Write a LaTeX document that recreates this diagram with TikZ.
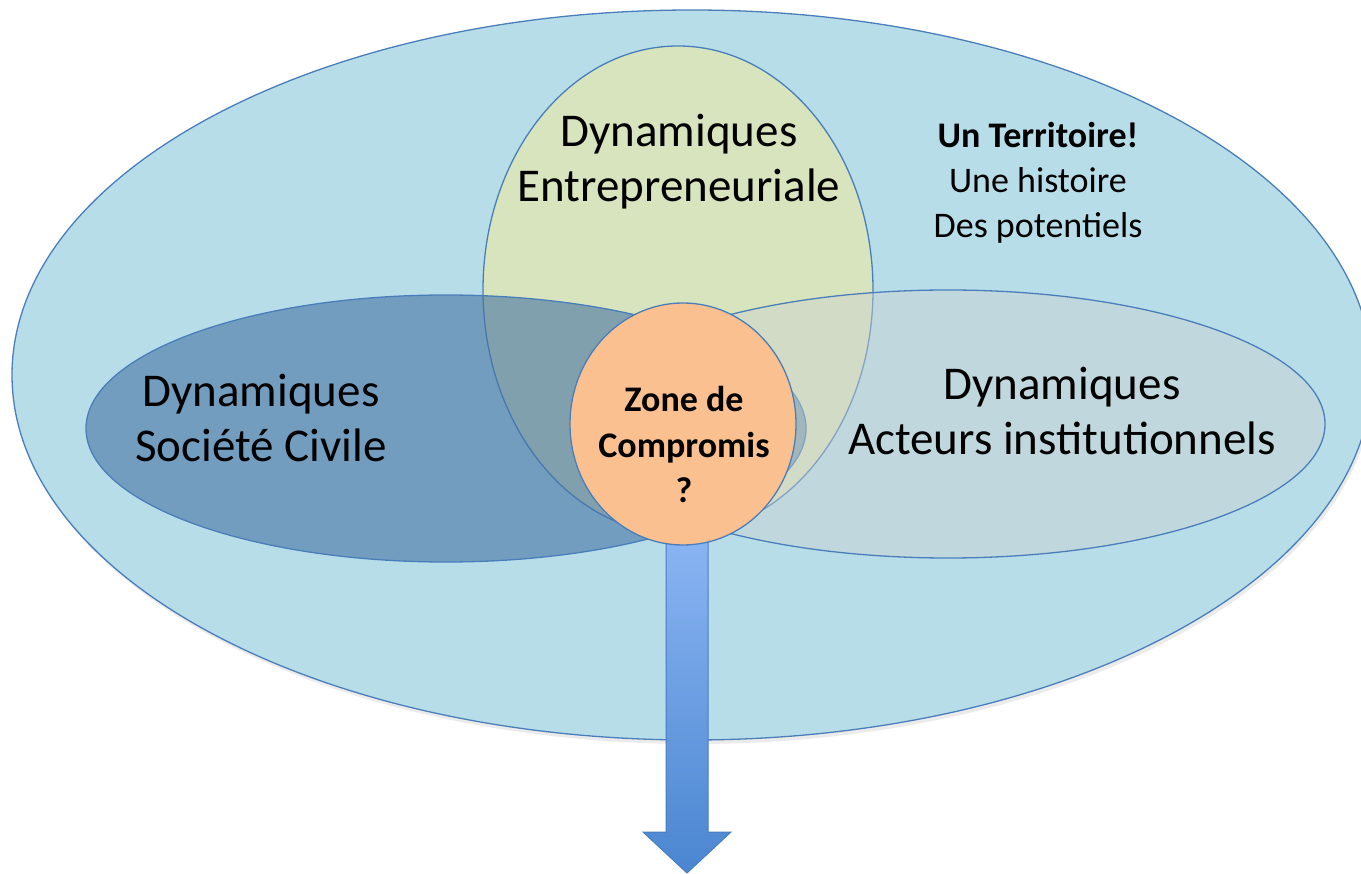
\documentclass[tikz,border=0pt]{standalone}
\usepackage{fontspec}
\setmainfont{Carlito}
\usetikzlibrary{shapes.geometric,calc}
\definecolor{bordc}{HTML}{4A7EBB}
\definecolor{terrc}{HTML}{B7DDE8}
\definecolor{entrc}{HTML}{D7E4BD}
\definecolor{civc}{RGB}{70,115,165}
\definecolor{instc}{RGB}{203,210,209}
\definecolor{compc}{HTML}{FAC090}
\definecolor{arrtop}{HTML}{A0C4FF}
\definecolor{arrmid}{HTML}{8BB8F6}
\definecolor{arrbot}{HTML}{4A86D0}
\tikzset{
  blob/.style={ellipse, draw=bordc, line width=1.3pt, inner sep=0pt, outer sep=0pt},
  biglabel/.style={align=center, anchor=base, inner sep=0pt, font=\fontsize{47}{55.5}\selectfont},
  smalllabel/.style={align=center, anchor=base, inner sep=0pt, font=\fontsize{36}{45}\selectfont},
  arrowbody/.style={draw=bordc, line width=1pt, top color=arrtop, middle color=arrmid, bottom color=arrbot},
  shadowc/.style={fill=black, fill opacity=0.08, draw=none}
}
\begin{document}
\begin{tikzpicture}[x=1pt,y=-1pt]
\useasboundingbox (0,0) rectangle (1361,874);
% territory
\fill[shadowc] (694,379) ellipse [x radius=680pt, y radius=365pt];
\node[blob, fill=terrc, minimum width=1360pt, minimum height=730pt] (terr) at (692,375) {};
% arrow
\coordinate (tip) at (687,873);
\coordinate (ctr) at (683,424);
\path[arrowbody] ($(tip |- ctr)+(-21,0)$) -- ($(tip |- ctr)+(21,0)$) -- ($(tip)+(21,-41)$) -- ($(tip)+(44,-41)$) -- (tip) -- ($(tip)+(-44,-41)$) -- ($(tip)+(-21,-41)$) -- cycle;
% dynamics
\node[blob, fill=entrc, minimum width=390pt, minimum height=488pt] (entr) at (678,290) {};
\node[blob, fill=civc, fill opacity=0.6, minimum width=720pt, minimum height=267pt] (civ) at (446,428.5) {};
\node[blob, fill=instc, fill opacity=0.45, minimum width=754pt, minimum height=268pt] (inst) at (948,424) {};
\node[blob, fill=compc, minimum width=226pt, minimum height=242pt] (comp) at (ctr) {};
% labels (anchor = baseline of last line)
\node[biglabel] (entrlbl) at (679,202) {Dynamiques\\Entrepreneuriale};
\node[biglabel] (civlbl) at (261,462) {Dynamiques\\Société Civile};
\node[biglabel] (instlbl) at (1062,455) {Dynamiques\\Acteurs institutionnels};
\node[smalllabel] (terrlbl) at (1038,238) {\textbf{Un Territoire!}\\Une histoire\\Des potentiels};
\node[smalllabel, font=\fontsize{36}{45.5}\selectfont\bfseries] (complbl) at (684,503) {Zone de\\Compromis\\?};
\end{tikzpicture}
\end{document}
